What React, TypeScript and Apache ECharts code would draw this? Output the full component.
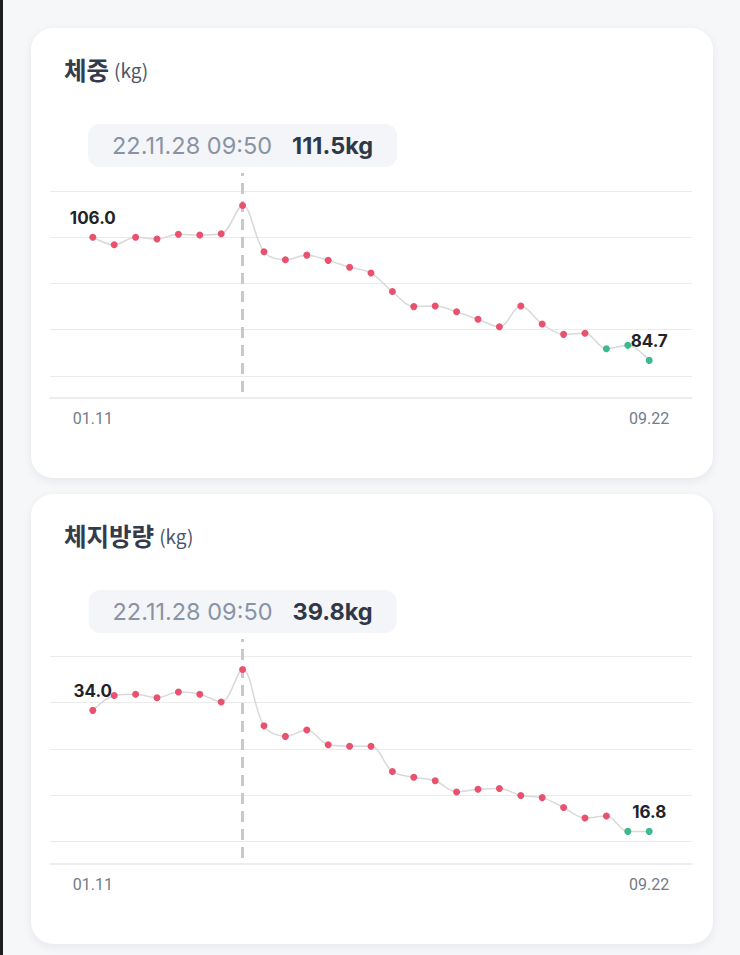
import { useEffect, useRef } from 'react';
import type { FC } from 'react';
import * as echarts from 'echarts';

// 체중 (kg)
const weightValues = [
  106.0, 104.7, 106.0, 105.7, 106.5, 106.4, 106.6, 111.5, 103.5, 102.1, 102.9,
  102.0, 100.8, 99.8, 96.6, 94.0, 94.1, 93.1, 91.8, 90.5, 94.1, 91.0, 89.2,
  89.4, 86.7, 87.3, 84.7,
];
const weightGuides = [82, 90, 98, 106, 114];

// 체지방량 (kg)
const fatValues = [
  34.0, 36.1, 36.3, 35.8, 36.6, 36.3, 35.2, 39.8, 31.8, 30.3, 31.2, 29.1,
  28.9, 28.9, 25.3, 24.5, 24.0, 22.4, 22.8, 22.9, 21.9, 21.6, 20.2, 18.7,
  19.0, 16.8, 16.8,
];
const fatGuides = [15.43, 21.98, 28.53, 35.09, 41.64];

const axisLabelIndex = [0, 26];
const axisLabelText = ['01.11', '09.22'];
const selectedIndex = 7;
const selectedTime = '22.11.28 09:50';

const RED = '#e8526f';
const GREEN = '#3dba8b';

interface Props {
  title: string;
  unit: string;
  values: number[];
  guides: number[];
  yMin: number;
  yMax: number;
  greenFrom: number;
}

const TrendCard: FC<Props> = ({ title, unit, values, guides, yMin, yMax, greenFrom }) => {
  const box = useRef<HTMLDivElement>(null);

  useEffect(() => {
    if (!box.current) return;
    const chart = echarts.init(box.current, undefined, { renderer: 'svg' });
    const last = values.length - 1;

    chart.setOption({
      animation: false,
      title: {
        text: `{a|${title}} {b|(${unit})}`,
        left: 33,
        top: 29,
        padding: 0,
        textStyle: {
          fontWeight: 'normal',
          rich: {
            a: { fontSize: 24.5, fontWeight: 700, color: '#333b4d', fontFamily: 'Noto Sans CJK KR' },
            b: { fontSize: 19, fontWeight: 400, color: '#4b5567', fontFamily: 'Noto Sans CJK KR' },
          },
        },
      },
      grid: { left: 19, right: 21, top: 145, bottom: 86 },
      xAxis: {
        type: 'value',
        min: -2,
        max: 28,
        interval: 2,
        offset: 6,
        axisLine: { show: true, onZero: false, lineStyle: { color: '#e6e6e6', width: 1.5 } },
        axisTick: { show: false },
        splitLine: { show: false },
        axisLabel: {
          margin: 12,
          color: '#737b8b',
          fontSize: 16,
          fontFamily: 'Roboto',
          formatter: (v: number) => {
            const k = axisLabelIndex.indexOf(v);
            return k >= 0 ? axisLabelText[k] : '';
          },
        },
      },
      yAxis: {
        type: 'value',
        min: yMin,
        max: yMax,
        show: false,
        splitLine: { show: false },
      },
      series: [
        {
          // 가이드 라인
          type: 'line',
          data: [],
          z: 1,
          silent: true,
          markLine: {
            z: 1,
            silent: true,
            symbol: ['none', 'none'],
            label: { show: false },
            emphasis: { disabled: true },
            data: [
              ...guides.map((v) => ({
                yAxis: v,
                lineStyle: { color: '#ebebeb', width: 1.2, type: 'solid' },
              })),
              {
                xAxis: selectedIndex,
                lineStyle: { color: '#c9c9c9', width: 3, type: [11, 7] },
              },
            ],
          },
        },
        {
          type: 'line',
          z: 3,
          smooth: 0.35,
          symbol: 'circle',
          symbolSize: 7,
          data: values.map((v, i) => [i, v]),
          lineStyle: { color: '#d9d9d9', width: 1.5 },
          itemStyle: {
            color: (p: any) => (p.dataIndex >= greenFrom ? GREEN : RED),
          },
          label: {
            show: true,
            position: 'top',
            distance: 7,
            fontSize: 17,
            fontWeight: 700,
            color: '#1f2329',
            fontFamily: 'Inter',
            formatter: (p: any) =>
              p.dataIndex === 0 || p.dataIndex === last ? p.value[1].toFixed(1) : '',
          },
        },
      ],
    });

    // 선택된 포인트 정보 박스
    const [px] = chart.convertToPixel({ gridIndex: 0 }, [selectedIndex, values[selectedIndex]]);
    chart.setOption({
      graphic: [
        {
          type: 'text',
          x: px,
          y: 117.5,
          z: 10,
          style: {
            text: `{d|${selectedTime}}{v|${values[selectedIndex].toFixed(1)}${unit}}`,
            rich: {
              d: { fontSize: 23.5, lineHeight: 25, fill: '#8a93a3', fontFamily: 'Inter' },
              v: {
                fontSize: 23.5,
                lineHeight: 25,
                fontWeight: 700,
                fill: '#2f3849',
                fontFamily: 'Inter',
                padding: [0, 0, 0, 20],
              },
            },
            backgroundColor: '#f3f5f8',
            padding: [9, 24],
            borderRadius: 12,
            align: 'center',
            verticalAlign: 'middle',
            textAlign: 'center',
            textVerticalAlign: 'middle',
          },
        },
      ],
    });

    return () => {
      chart.dispose();
    };
  }, []);

  return <div ref={box} style={{ width: 682, height: 450 }} />;
};

const cardStyle = {
  position: 'absolute' as const,
  left: 31,
  width: 682,
  height: 450,
  background: '#ffffff',
  borderRadius: 22,
  boxShadow: '0 3px 10px rgba(20, 30, 50, 0.07)',
  overflow: 'hidden',
};

export default function App() {
  return (
    <div
      style={{
        position: 'fixed',
        left: 0,
        top: 0,
        width: 740,
        height: 955,
        background: '#f6f7f9',
        overflow: 'hidden',
      }}
    >
      <div style={{ position: 'absolute', left: 0, top: 0, width: 3, height: 955, background: '#1f1f1f' }} />
      <div style={{ ...cardStyle, top: 28 }}>
        <TrendCard
          title="체중"
          unit="kg"
          values={weightValues}
          guides={weightGuides}
          yMin={79.23}
          yMax={117.11}
          greenFrom={24}
        />
      </div>
      <div style={{ ...cardStyle, top: 494 }}>
        <TrendCard
          title="체지방량"
          unit="kg"
          values={fatValues}
          guides={fatGuides}
          yMin={13.02}
          yMax={44.14}
          greenFrom={25}
        />
      </div>
    </div>
  );
}
